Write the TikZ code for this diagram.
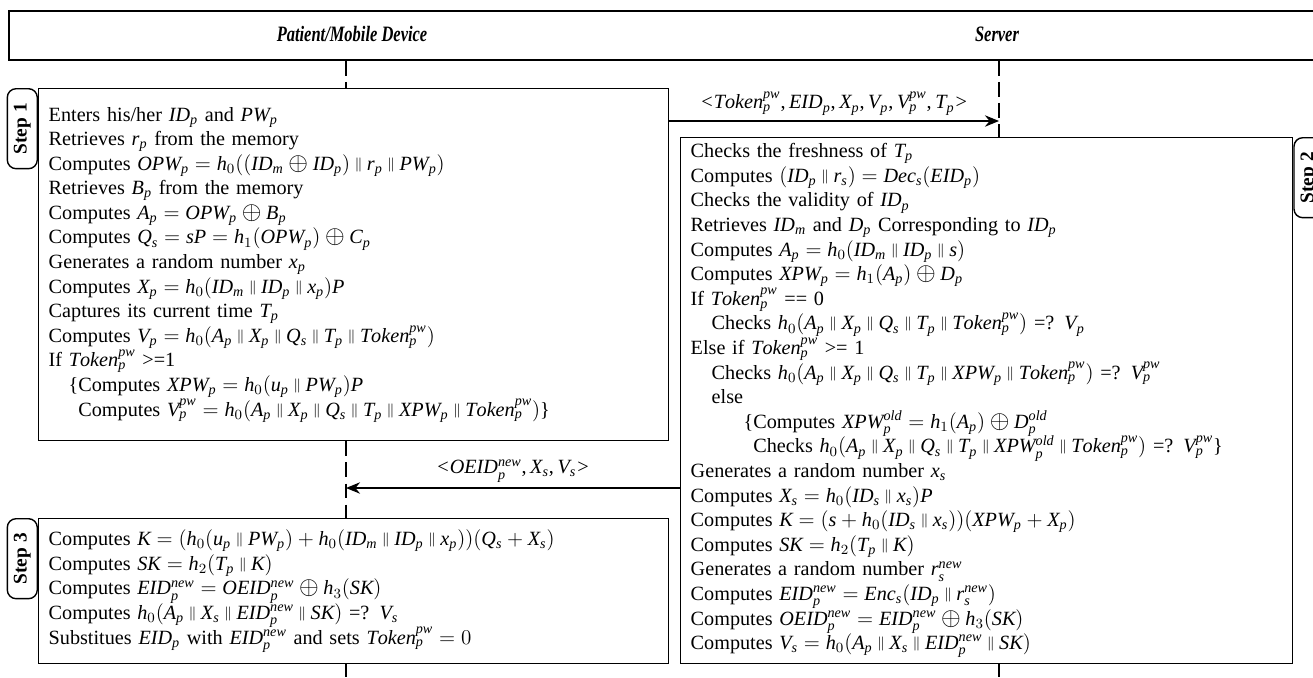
\documentclass[tikz,border=0pt]{standalone}
\usepackage{amsmath}
\usepackage{fontspec}
\setmainfont{Liberation Serif}[NFSSFamily=libser]
\newfontfamily\hdrfont{Liberation Serif}[FakeStretch=0.75]
\DeclareSymbolFont{letters}{TU}{libser}{m}{it}
\DeclareSymbolFont{operators}{TU}{libser}{m}{n}
\DeclareMathSymbol{,}{\mathpunct}{operators}{`,}
\DeclareMathSymbol{.}{\mathord}{operators}{`.}
\usetikzlibrary{arrows.meta,positioning,calc}

\newcommand{\conc}{\mathbin{\mbox{\raisebox{0.1em}{$\scriptstyle\|$}}}}
\newcommand{\xor}{\mathbin{\mbox{\fontsize{15}{15}\selectfont$\oplus$}}}
\newcommand{\tok}{Token_p^{pw}}
\newcommand{\boxfont}{\fontsize{11.5}{14}\selectfont\lineskiplimit=-100pt}

\begin{document}
\begin{tikzpicture}[x=0.02cm, y=-0.02cm,
    lane/.style={draw, line width=1pt, anchor=north west, inner sep=0pt},
    title/.style={font=\fontsize{12.5}{14}\selectfont\hdrfont\bfseries\itshape},
    stepbox/.style={draw, line width=0.8pt, anchor=north west, align=left,
        inner xsep=0.2cm, inner ysep=0pt, font=\boxfont},
    steptag/.style={draw, line width=0.8pt, rounded corners=5pt, rotate=90,
        minimum width=1.6cm, minimum height=0.6cm, inner sep=1pt,
        font=\fontsize{11}{12}\selectfont\bfseries},
    life/.style={line width=0.8pt, dash pattern=on 8.5pt off 3.5pt},
    msg/.style={-{Stealth[length=8pt, width=6.5pt]}, line width=0.8pt},
    lbl/.style={font=\fontsize{11.5}{13}\selectfont, inner sep=3pt}]

    \useasboundingbox (0,0) rectangle (1313,677);

    % Header
    \node[lane, minimum width=26.6cm, minimum height=0.98cm] (hdr) at (8,10) {};
    \node[title] (tpd) at (352,34) {Patient/Mobile Device};
    \node[title] (tsv) at (997,34) {Server};

    % Lifeline positions
    \coordinate (pdx) at (346,0);
    \coordinate (svx) at (999,0);
    \coordinate (bot) at (0,677);

    % Step 1
    \node[stepbox, minimum width=12.6cm, text width=12.2cm, minimum height=7.04cm] (b1) at (38,88) {%
        Enters his/her $ID_p$ and $PW_p$\\
        Retrieves $r_p$ from the memory\\
        Computes $OPW_p = h_0((ID_m \xor ID_p) \conc r_p \conc PW_p)$\\
        Retrieves $B_p$ from the memory\\
        Computes $A_p = OPW_p \xor B_p$\\
        Computes $Q_s = sP = h_1(OPW_p) \xor C_p$\\
        Generates a random number $x_p$\\
        Computes $X_p = h_0(ID_m \conc ID_p \conc x_p)P$\\
        Captures its current time $T_p$\\
        Computes $V_p = h_0(A_p \conc X_p \conc Q_s \conc T_p \conc \tok)$\\
        If $\tok$ >=1\\
        \hspace*{0.4cm}\{Computes $XPW_p = h_0(u_p \conc PW_p)P$\\
        \hspace*{0.4cm}\phantom{\{}Computes $V_p^{pw} = h_0(A_p \conc X_p \conc Q_s \conc T_p \conc XPW_p \conc \tok)$\}};
    \node[steptag, anchor=south east] (s1) at (b1.north west) {Step 1};

    % Step 2
    \node[stepbox, minimum width=12.24cm, text width=11.84cm, minimum height=10.52cm] (b2) at (680,137) {%
        Checks the freshness of $T_p$\\
        Computes $(ID_p \conc r_s) = Dec_s(EID_p)$\\
        Checks the validity of $ID_p$\\
        Retrieves $ID_m$ and $D_p$ Corresponding to $ID_p$\\
        Computes $A_p = h_0(ID_m \conc ID_p \conc s)$\\
        Computes $XPW_p = h_1(A_p) \xor D_p$\\
        If $\tok$ == 0\\
        \hspace*{0.42cm}Checks $h_0(A_p \conc X_p \conc Q_s \conc T_p \conc \tok)$ =? $V_p$\\
        Else if $\tok$ >= 1\\
        \hspace*{0.42cm}Checks $h_0(A_p \conc X_p \conc Q_s \conc T_p \conc XPW_p \conc \tok)$ =? $V_p^{pw}$\\
        \hspace*{0.42cm}else\\
        \hspace*{1.06cm}\{Computes $XPW_p^{old} = h_1(A_p) \xor D_p^{old}$\\
        \hspace*{1.06cm}\phantom{\{}Checks $h_0(A_p \conc X_p \conc Q_s \conc T_p \conc XPW_p^{old} \conc \tok)$ =? $V_p^{pw}$\}\\
        Generates a random number $x_s$\\
        Computes $X_s = h_0(ID_s \conc x_s)P$\\
        Computes $K = (s + h_0(ID_s \conc x_s))(XPW_p + X_p)$\\
        Computes $SK = h_2(T_p \conc K)$\\
        Generates a random number $r_s^{new}$\\
        Computes $EID_p^{new} = Enc_s(ID_p \conc r_s^{new})$\\
        Computes $OEID_p^{new} = EID_p^{new} \xor h_3(SK)$\\
        Computes $V_s = h_0(A_p \conc X_s \conc EID_p^{new} \conc SK)$};
    \node[steptag, anchor=north east] (s2) at (b2.north east) {Step 2};

    % Step 3
    \node[stepbox, minimum width=12.6cm, text width=12.2cm, minimum height=2.9cm] (b3) at (38,518) {%
        Computes $K = (h_0(u_p \conc PW_p) + h_0(ID_m \conc ID_p \conc x_p))(Q_s + X_s)$\\
        Computes $SK = h_2(T_p \conc K)$\\
        Computes $EID_p^{new} = OEID_p^{new} \xor h_3(SK)$\\
        Computes $h_0(A_p \conc X_s \conc EID_p^{new} \conc SK)$ =? $V_s$\\
        Substitues $EID_p$ with $EID_p^{new}$ and sets $\tok = 0$};
    \node[steptag, anchor=south east] (s3) at (b3.north west) {Step 3};

    % Lifelines
    \draw[life] (pdx |- hdr.south) -- (pdx |- b1.north);
    \draw[life] (pdx |- b1.south) -- (pdx |- b3.north);
    \draw[life] (pdx |- b3.south) -- (pdx |- bot);
    \draw[life] (svx |- hdr.south) -- (svx |- b2.north);
    \draw[life] (svx |- b2.south) -- (svx |- bot);

    % Messages
    \coordinate (m1) at (999,121);
    \coordinate (m2) at (346,488);
    \draw[msg] (b1.east |- m1) -- node[above, lbl] (l1)
        {${<}Token_p^{pw}, EID_p, X_p, V_p, V_p^{pw}, T_p{>}$} (m1);
    \draw[msg] (b2.west |- m2) -- node[above, lbl] (l2)
        {${<}OEID_p^{new}, X_s, V_s{>}$} (m2);
\end{tikzpicture}
\end{document}
